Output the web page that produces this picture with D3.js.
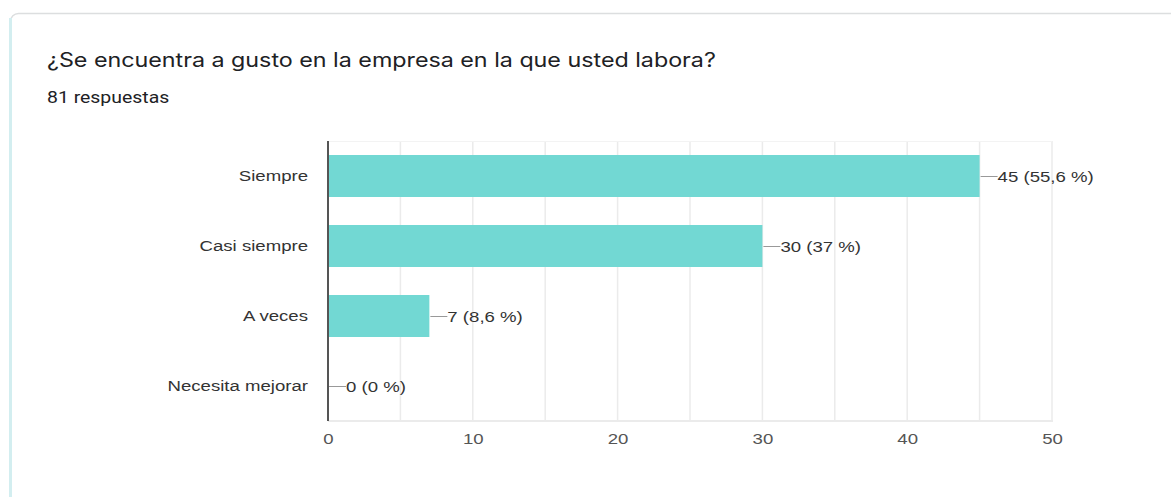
<!DOCTYPE html>
<html>
<head>
<meta charset="utf-8">
<script src="https://cdn.jsdelivr.net/npm/d3@7"></script>
<style>
  html, body { margin: 0; padding: 0; background: #fff; }
  svg { display: block; }
</style>
</head>
<body>
<svg id="chart" width="1171" height="497"></svg>
<script>
// Survey answers and counts
const categories = ["Siempre", "Casi siempre", "A veces", "Necesita mejorar"];
const counts = [45, 30, 7, 0];
const percentLabels = ["55,6 %", "37 %", "8,6 %", "0 %"];
const xTicks = [0, 10, 20, 30, 40, 50];
const gridTicks = [5, 10, 15, 20, 25, 30, 35, 40, 45, 50];

const title = "¿Se encuentra a gusto en la empresa en la que usted labora?";
const subtitle = "81 respuestas";

// Text is drawn slightly widened horizontally
const SX = 1.2;
const labelFont = "'Liberation Sans', Arial, sans-serif";

const svg = d3.select("#chart");

// Card frame
svg.append("rect")
  .attr("x", 10.5).attr("y", 13.5)
  .attr("width", 1175).attr("height", 500)
  .attr("rx", 8)
  .attr("fill", "#fff")
  .attr("stroke", "#dcdedf")
  .attr("stroke-width", 1.5);
svg.append("rect")
  .attr("x", 9).attr("y", 18)
  .attr("width", 3).attr("height", 490)
  .attr("fill", "#d3eef0");

svg.append("text")
  .attr("transform", `translate(47,67) scale(${SX},1)`)
  .attr("font-family", "Inter, Roboto, sans-serif")
  .attr("font-size", 19.4)
  .attr("fill", "#202124")
  .text(title);

svg.append("text")
  .attr("transform", `translate(47,103) scale(${SX},1)`)
  .attr("font-family", "Roboto, sans-serif")
  .attr("font-size", 16.2)
  .attr("fill", "#202124")
  .text(subtitle);

const plot = { left: 328, top: 141, right: 1052, bottom: 421 };

const x = d3.scaleLinear().domain([0, 50]).range([plot.left, plot.right]);
const y = d3.scaleBand().domain(categories)
  .range([plot.top, plot.bottom])
  .paddingInner(0.4).paddingOuter(0.2);

// Vertical gridlines
svg.append("g").selectAll("line")
  .data(gridTicks)
  .join("line")
  .attr("x1", d => x(d)).attr("x2", d => x(d))
  .attr("y1", plot.top).attr("y2", plot.bottom)
  .attr("stroke", "#ebebeb")
  .attr("stroke-width", 1.5);

// Plot area top and bottom edges
svg.append("line")
  .attr("x1", plot.left).attr("x2", plot.right)
  .attr("y1", plot.top + 0.5).attr("y2", plot.top + 0.5)
  .attr("stroke", "#f3f3f3");
svg.append("line")
  .attr("x1", plot.left).attr("x2", plot.right + 1)
  .attr("y1", plot.bottom).attr("y2", plot.bottom)
  .attr("stroke", "#ebebeb")
  .attr("stroke-width", 2);

// Bars
svg.append("g").selectAll("rect")
  .data(categories)
  .join("rect")
  .attr("x", x(0))
  .attr("y", d => y(d))
  .attr("width", (d, i) => x(counts[i]) - x(0))
  .attr("height", y.bandwidth())
  .attr("fill", "#72d8d3");

// Value labels with leader lines
const labels = svg.append("g").selectAll("g")
  .data(categories)
  .join("g")
  .attr("transform", (d, i) => `translate(${x(counts[i])},${y(d) + y.bandwidth() / 2})`);
labels.append("line")
  .attr("x1", 1).attr("x2", 18)
  .attr("y1", 0.5).attr("y2", 0.5)
  .attr("stroke", "#999")
  .attr("stroke-width", 1);
labels.append("text")
  .attr("transform", `translate(18,0) scale(${SX},1)`)
  .attr("dy", "0.36em")
  .attr("font-family", labelFont)
  .attr("font-size", 15.5)
  .attr("fill", "#333")
  .text((d, i) => `${counts[i]} (${percentLabels[i]})`);

// Category axis
const yAxis = svg.append("g")
  .attr("transform", `translate(${plot.left},0)`)
  .call(d3.axisLeft(y).tickSize(0));
yAxis.select(".domain")
  .attr("stroke", "#555")
  .attr("stroke-width", 2)
  .attr("d", `M0,${plot.top}V${plot.bottom}`);
yAxis.selectAll(".tick text")
  .attr("x", -20 / SX)
  .attr("transform", `scale(${SX},1)`)
  .attr("font-size", 15.5)
  .attr("font-family", labelFont)
  .attr("fill", "#333");

// Value axis
const xAxis = svg.append("g")
  .attr("transform", `translate(0,${plot.bottom})`)
  .call(d3.axisBottom(x).tickValues(xTicks).tickSize(0).tickPadding(12));
xAxis.select(".domain").remove();
xAxis.selectAll(".tick text")
  .attr("transform", `scale(${SX},1)`)
  .attr("font-size", 15.5)
  .attr("font-family", labelFont)
  .attr("fill", "#555");
</script>
</body>
</html>
